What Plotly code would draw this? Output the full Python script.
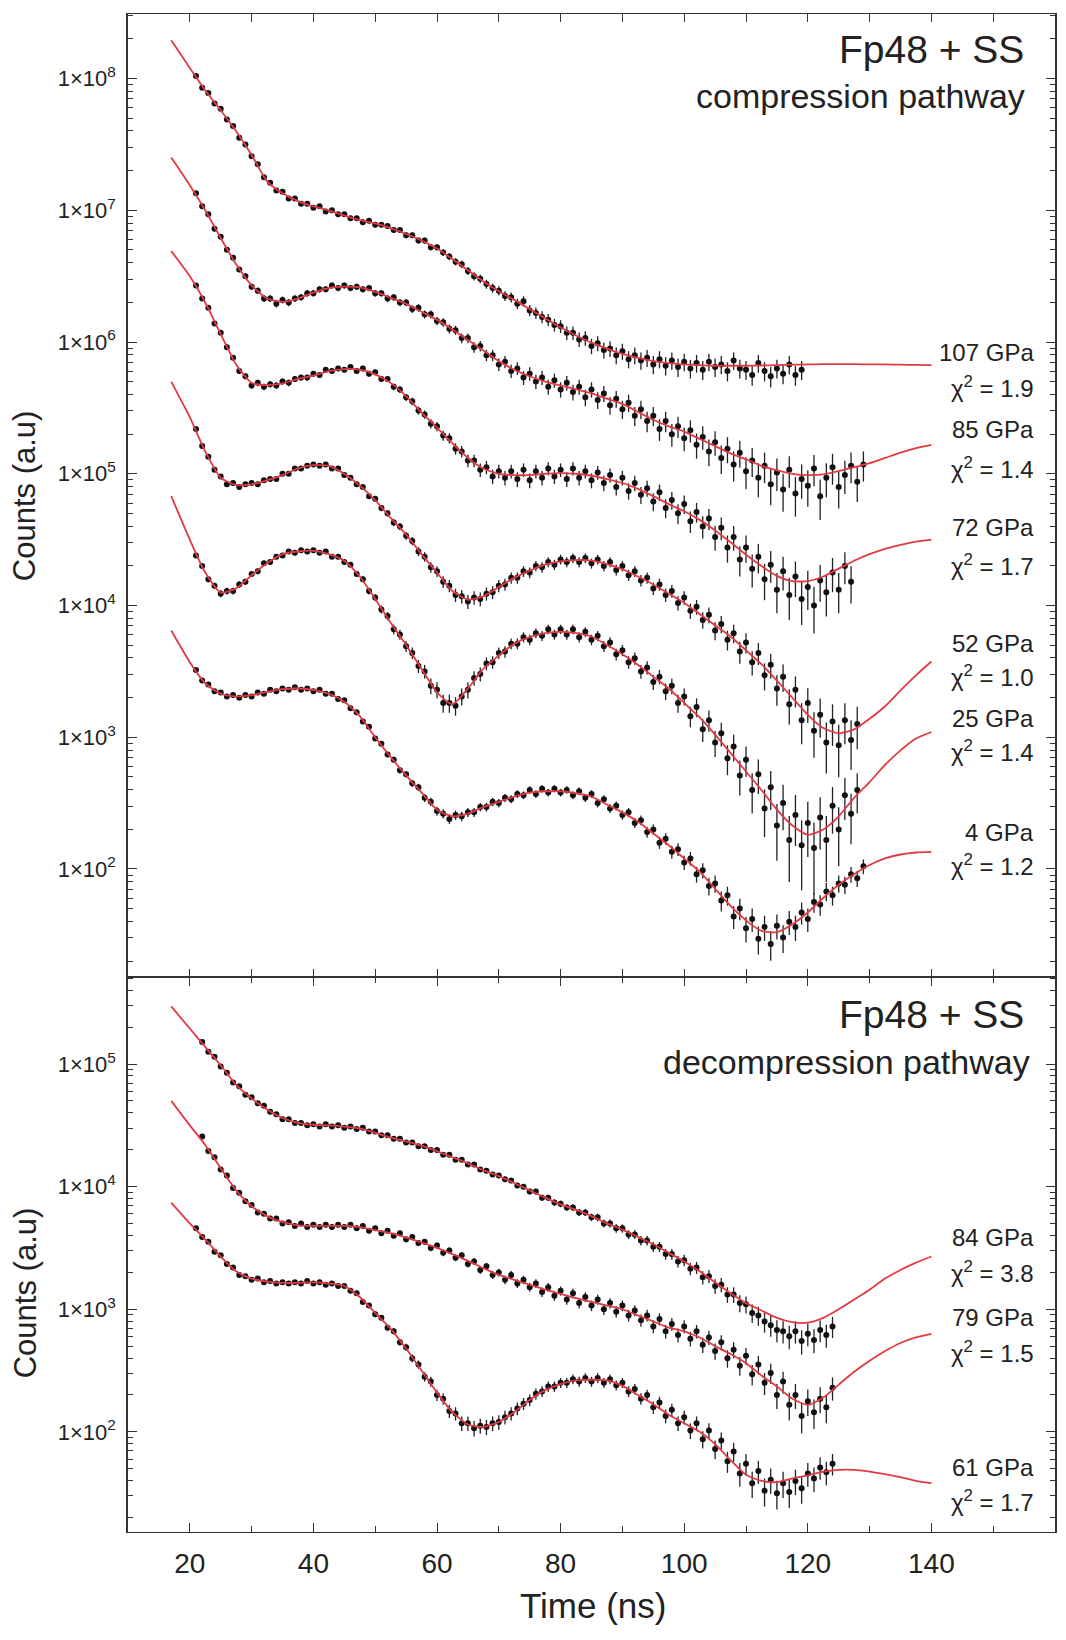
import numpy as np
import plotly.graph_objects as go

# ---------------- data (counts given as log10 values) ----------------
fit_time = [17, 20, 22.5, 25, 27.5, 30, 32.5, 35, 37.5, 40, 42.5, 45, 47.5, 50, 52.5, 55, 57.5,
            60, 62.5, 65, 67.5, 70, 72.5, 75, 77.5, 80, 82.5, 85, 87.5, 90, 92.5, 95, 97.5, 100,
            102.5, 105, 107.5, 110, 112.5, 115, 117.5, 120, 122.5, 125, 127.5, 130, 132.5, 135,
            137.5, 140]

fit_107 = [8.29, 8.08, 7.91, 7.76, 7.60, 7.42, 7.22, 7.13, 7.07, 7.03, 7.00, 6.96, 6.925, 6.90,
           6.865, 6.82, 6.77, 6.71, 6.63, 6.545, 6.46, 6.385, 6.32, 6.25, 6.18, 6.11, 6.05, 5.995,
           5.95, 5.91, 5.88, 5.855, 5.84, 5.83, 5.825, 5.82, 5.82, 5.82, 5.822, 5.825, 5.828, 5.83,
           5.832, 5.832, 5.832, 5.83, 5.83, 5.828, 5.826, 5.825]
fit_85 = [7.40, 7.19, 7.00, 6.79, 6.59, 6.43, 6.33, 6.305, 6.33, 6.375, 6.41, 6.42, 6.415, 6.38,
          6.335, 6.29, 6.23, 6.17, 6.095, 6.015, 5.935, 5.855, 5.79, 5.74, 5.70, 5.67, 5.64, 5.61,
          5.57, 5.53, 5.47, 5.41, 5.36, 5.32, 5.265, 5.21, 5.155, 5.11, 5.06, 5.025, 5.0, 4.99,
          4.995, 5.02, 5.05, 5.08, 5.12, 5.16, 5.195, 5.22]
fit_72 = [6.69, 6.50, 6.30, 6.06, 5.83, 5.69, 5.673, 5.686, 5.72, 5.745, 5.78, 5.795, 5.79, 5.755,
          5.69, 5.59, 5.465, 5.35, 5.23, 5.12, 5.04, 5.0, 4.99, 4.99, 5.0, 5.005, 5.0, 4.985, 4.96,
          4.93, 4.885, 4.83, 4.77, 4.715, 4.65, 4.57, 4.48, 4.385, 4.30, 4.225, 4.185, 4.185, 4.22,
          4.28, 4.34, 4.39, 4.43, 4.46, 4.485, 4.50]
fit_52 = [5.70, 5.43, 5.17, 4.97, 4.915, 4.92, 4.95, 4.99, 5.04, 5.065, 5.06, 5.0, 4.91, 4.80,
          4.665, 4.54, 4.39, 4.25, 4.11, 4.045, 4.07, 4.14, 4.21, 4.265, 4.31, 4.335, 4.345, 4.34,
          4.315, 4.275, 4.22, 4.16, 4.09, 4.02, 3.935, 3.85, 3.765, 3.66, 3.555, 3.43, 3.30, 3.17,
          3.07, 3.03, 3.06, 3.14, 3.235, 3.355, 3.47, 3.575]
fit_25 = [4.83, 4.50, 4.25, 4.10, 4.13, 4.23, 4.32, 4.39, 4.41, 4.415, 4.39, 4.34, 4.22, 4.05,
          3.87, 3.70, 3.52, 3.34, 3.25, 3.37, 3.52, 3.62, 3.71, 3.76, 3.79, 3.80, 3.79, 3.765, 3.70,
          3.63, 3.55, 3.46, 3.37, 3.26, 3.15, 3.02, 2.88, 2.74, 2.60, 2.45, 2.33, 2.26, 2.30, 2.40,
          2.54, 2.66, 2.79, 2.90, 2.99, 3.04]
fit_4 = [3.81, 3.57, 3.41, 3.33, 3.31, 3.32, 3.345, 3.365, 3.37, 3.36, 3.33, 3.27, 3.16, 3.0, 2.85,
         2.71, 2.58, 2.45, 2.40, 2.42, 2.47, 2.51, 2.55, 2.58, 2.59, 2.59, 2.575, 2.55, 2.49, 2.43,
         2.36, 2.27, 2.18, 2.08, 1.98, 1.85, 1.72, 1.61, 1.53, 1.52, 1.58, 1.67, 1.78, 1.88, 1.96,
         2.03, 2.08, 2.11, 2.125, 2.13]
fit_84 = [5.47, 5.29, 5.14, 4.99, 4.83, 4.72, 4.63, 4.56, 4.52, 4.505, 4.50, 4.49, 4.475, 4.44,
          4.40, 4.37, 4.335, 4.29, 4.24, 4.19, 4.135, 4.085, 4.03, 3.97, 3.91, 3.855, 3.81, 3.76,
          3.70, 3.65, 3.59, 3.53, 3.46, 3.39, 3.31, 3.22, 3.13, 3.05, 2.99, 2.93, 2.895, 2.89, 2.93,
          3.0, 3.08, 3.16, 3.25, 3.32, 3.38, 3.43]
fit_79 = [4.70, 4.50, 4.34, 4.15, 3.97, 3.84, 3.76, 3.71, 3.685, 3.68, 3.68, 3.68, 3.67, 3.645,
          3.62, 3.585, 3.545, 3.50, 3.45, 3.395, 3.335, 3.28, 3.24, 3.20, 3.16, 3.125, 3.09, 3.06,
          3.03, 3.0, 2.95, 2.90, 2.85, 2.82, 2.77, 2.70, 2.635, 2.56, 2.46, 2.37, 2.27, 2.22, 2.28,
          2.385, 2.49, 2.58, 2.66, 2.725, 2.77, 2.80]
fit_61 = [3.87, 3.70, 3.57, 3.43, 3.31, 3.25, 3.225, 3.215, 3.215, 3.22, 3.21, 3.19, 3.10, 2.97,
          2.84, 2.68, 2.50, 2.32, 2.16, 2.06, 2.04, 2.08, 2.16, 2.26, 2.34, 2.39, 2.42, 2.425, 2.42,
          2.375, 2.30, 2.225, 2.14, 2.07, 2.0, 1.90, 1.77, 1.65, 1.60, 1.59, 1.62, 1.645, 1.675,
          1.69, 1.69, 1.675, 1.655, 1.63, 1.60, 1.58]

# measured points, one per ns starting at the given time
data_107 = [8.02, 7.93, 7.89, 7.81, 7.77, 7.69, 7.64, 7.55, 7.50, 7.41,
            7.35, 7.25, 7.21, 7.15, 7.14, 7.09, 7.09, 7.05, 7.05, 7.02,
            7.03, 6.99, 7.00, 6.97, 6.97, 6.94, 6.94, 6.91, 6.92, 6.89,
            6.89, 6.88, 6.85, 6.85, 6.81, 6.81, 6.77, 6.77, 6.72, 6.72,
            6.68, 6.65, 6.61, 6.59, 6.54, 6.50, 6.48, 6.44, 6.41, 6.39,
            6.35, 6.34, 6.29, 6.31, 6.24, 6.22, 6.19, 6.17, 6.13, 6.12,
            6.07, 6.07, 6.02, 6.03, 5.97, 5.99, 5.94, 5.95, 5.90, 5.93,
            5.87, 5.90, 5.86, 5.88, 5.83, 5.87, 5.82, 5.86, 5.81, 5.85,
            5.80, 5.84, 5.79, 5.85, 5.81, 5.83, 5.78, 5.86, 5.80, 5.79,
            5.75, 5.84, 5.78, 5.74, 5.80, 5.76, 5.83, 5.75, 5.79]
data_85 = [7.13, 7.03, 6.97, 6.86, 6.80, 6.70, 6.64, 6.55, 6.50, 6.42,
           6.39, 6.33, 6.33, 6.29, 6.32, 6.30, 6.33, 6.34, 6.37, 6.37,
           6.40, 6.40, 6.43, 6.41, 6.43, 6.41, 6.42, 6.40, 6.41, 6.37,
           6.37, 6.33, 6.34, 6.30, 6.30, 6.25, 6.26, 6.21, 6.21, 6.16,
           6.15, 6.10, 6.09, 6.03, 6.03, 5.96, 5.97, 5.90, 5.90, 5.83,
           5.85, 5.78, 5.80, 5.73, 5.76, 5.70, 5.73, 5.66, 5.71, 5.64,
           5.69, 5.62, 5.66, 5.58, 5.64, 5.56, 5.61, 5.52, 5.57, 5.49,
           5.54, 5.44, 5.49, 5.40, 5.44, 5.34, 5.40, 5.30, 5.36, 5.27,
           5.33, 5.22, 5.28, 5.17, 5.24, 5.12, 5.19, 5.07, 5.16, 5.02,
           5.10, 4.97, 5.06, 4.92, 5.01, 4.88, 5.03, 4.85, 4.96, 4.91,
           5.04, 4.83, 4.97, 5.05, 4.90, 4.99, 5.06, 4.94, 5.07]
data_72 = [6.43, 6.33, 6.26, 6.14, 6.07, 5.96, 5.88, 5.78, 5.74, 5.67,
           5.69, 5.66, 5.68, 5.67, 5.70, 5.69, 5.72, 5.73, 5.73, 5.76,
           5.75, 5.79, 5.78, 5.80, 5.79, 5.81, 5.78, 5.80, 5.76, 5.77,
           5.72, 5.72, 5.66, 5.64, 5.58, 5.55, 5.48, 5.45, 5.38, 5.36,
           5.29, 5.27, 5.19, 5.17, 5.10, 5.10, 5.03, 5.05, 4.98, 5.02,
           4.97, 5.02, 4.96, 5.03, 4.95, 5.02, 4.97, 5.04, 4.98, 5.03,
           4.96, 5.04, 4.97, 5.02, 4.95, 5.01, 4.93, 4.99, 4.90, 4.97,
           4.87, 4.93, 4.84, 4.89, 4.79, 4.86, 4.74, 4.80, 4.70, 4.77,
           4.64, 4.71, 4.60, 4.66, 4.52, 4.59, 4.44, 4.52, 4.35, 4.44,
           4.28, 4.37, 4.20, 4.31, 4.12, 4.26, 4.08, 4.22, 4.05, 4.14,
           4.00, 4.19, 4.10, 4.25, 4.12, 4.30, 4.18]
data_52 = [5.34, 5.21, 5.13, 5.03, 4.98, 4.92, 4.93, 4.90, 4.92, 4.93,
           4.92, 4.95, 4.96, 4.96, 5.00, 5.00, 5.04, 5.04, 5.06, 5.07,
           5.06, 5.07, 5.04, 5.04, 4.99, 4.97, 4.92, 4.90, 4.83, 4.81,
           4.74, 4.70, 4.63, 4.60, 4.53, 4.49, 4.41, 4.37, 4.29, 4.26,
           4.18, 4.15, 4.08, 4.07, 4.03, 4.06, 4.05, 4.09, 4.10, 4.15,
           4.16, 4.21, 4.21, 4.26, 4.25, 4.30, 4.29, 4.33, 4.31, 4.35,
           4.33, 4.36, 4.33, 4.36, 4.32, 4.35, 4.30, 4.33, 4.27, 4.30,
           4.23, 4.26, 4.19, 4.21, 4.13, 4.16, 4.08, 4.11, 4.02, 4.06,
           3.96, 3.99, 3.89, 3.93, 3.81, 3.86, 3.74, 3.79, 3.65, 3.72,
           3.57, 3.64, 3.47, 3.55, 3.37, 3.46, 3.25, 3.36, 3.13, 3.26,
           3.05, 3.17, 2.96, 3.12, 2.94, 3.13, 2.98, 3.10]
data_25 = [4.38, 4.30, 4.20, 4.15, 4.09, 4.11, 4.11, 4.16, 4.18, 4.24,
           4.26, 4.32, 4.33, 4.37, 4.38, 4.41, 4.40, 4.42, 4.41, 4.42,
           4.40, 4.41, 4.37, 4.37, 4.33, 4.31, 4.24, 4.20, 4.11, 4.06,
           3.97, 3.92, 3.82, 3.78, 3.69, 3.64, 3.54, 3.50, 3.39, 3.36,
           3.26, 3.26, 3.24, 3.31, 3.36, 3.45, 3.48, 3.56, 3.57, 3.64,
           3.65, 3.71, 3.71, 3.76, 3.74, 3.79, 3.77, 3.82, 3.78, 3.82,
           3.78, 3.82, 3.76, 3.80, 3.74, 3.77, 3.69, 3.72, 3.63, 3.66,
           3.57, 3.60, 3.50, 3.53, 3.42, 3.46, 3.35, 3.39, 3.26, 3.31,
           3.16, 3.23, 3.06, 3.13, 2.96, 3.03, 2.84, 2.93, 2.71, 2.83,
           2.60, 2.72, 2.46, 2.62, 2.33, 2.50, 2.22, 2.41, 2.18, 2.35,
           2.16, 2.39, 2.22, 2.48, 2.30, 2.56, 2.42, 2.60]
data_4 = [3.51, 3.43, 3.40, 3.35, 3.34, 3.31, 3.32, 3.30, 3.32, 3.31,
          3.34, 3.33, 3.36, 3.35, 3.37, 3.36, 3.38, 3.36, 3.37, 3.35,
          3.36, 3.33, 3.33, 3.29, 3.28, 3.22, 3.19, 3.12, 3.08, 2.99,
          2.95, 2.87, 2.83, 2.75, 2.72, 2.65, 2.62, 2.54, 2.51, 2.44,
          2.42, 2.38, 2.41, 2.40, 2.43, 2.43, 2.47, 2.47, 2.51, 2.50,
          2.54, 2.53, 2.57, 2.56, 2.60, 2.57, 2.61, 2.58, 2.61, 2.58,
          2.60, 2.56, 2.59, 2.54, 2.57, 2.50, 2.53, 2.46, 2.48, 2.41,
          2.43, 2.35, 2.37, 2.28, 2.30, 2.20, 2.23, 2.13, 2.15, 2.05,
          2.08, 1.96, 1.99, 1.87, 1.89, 1.76, 1.80, 1.64, 1.70, 1.55,
          1.62, 1.47, 1.56, 1.43, 1.57, 1.48, 1.60, 1.56, 1.67, 1.62,
          1.75, 1.73, 1.83, 1.80, 1.89, 1.88, 1.96, 1.93, 2.02]
data_84 = [5.18, 5.10, 5.06, 4.98, 4.93, 4.85, 4.82, 4.75, 4.73, 4.68,
           4.66, 4.61, 4.59, 4.55, 4.55, 4.52, 4.52, 4.50, 4.51, 4.49,
           4.51, 4.49, 4.50, 4.48, 4.49, 4.47, 4.48, 4.45, 4.45, 4.42,
           4.42, 4.39, 4.39, 4.36, 4.36, 4.33, 4.33, 4.30, 4.30, 4.26,
           4.26, 4.22, 4.22, 4.18, 4.18, 4.14, 4.13, 4.10, 4.09, 4.06,
           4.05, 4.01, 4.00, 3.96, 3.96, 3.91, 3.91, 3.87, 3.86, 3.83,
           3.83, 3.79, 3.79, 3.75, 3.75, 3.70, 3.70, 3.66, 3.66, 3.61,
           3.61, 3.56, 3.56, 3.51, 3.51, 3.45, 3.45, 3.39, 3.40, 3.33,
           3.34, 3.26, 3.27, 3.19, 3.20, 3.12, 3.12, 3.05, 3.04, 2.97,
           2.95, 2.90, 2.87, 2.83, 2.82, 2.78, 2.82, 2.74, 2.80, 2.75,
           2.83, 2.79, 2.86]
data_79 = [4.41, 4.29, 4.24, 4.14, 4.09, 3.99, 3.95, 3.88, 3.85, 3.79,
           3.78, 3.74, 3.74, 3.70, 3.71, 3.68, 3.70, 3.67, 3.69, 3.67,
           3.69, 3.67, 3.69, 3.67, 3.69, 3.66, 3.68, 3.64, 3.66, 3.62,
           3.64, 3.60, 3.62, 3.57, 3.59, 3.54, 3.55, 3.50, 3.52, 3.46,
           3.48, 3.42, 3.44, 3.37, 3.39, 3.32, 3.35, 3.28, 3.30, 3.24,
           3.28, 3.21, 3.24, 3.18, 3.21, 3.14, 3.18, 3.11, 3.15, 3.08,
           3.13, 3.05, 3.10, 3.03, 3.08, 3.00, 3.05, 2.98, 3.03, 2.95,
           2.99, 2.91, 2.95, 2.86, 2.92, 2.82, 2.88, 2.79, 2.86, 2.76,
           2.82, 2.71, 2.77, 2.66, 2.73, 2.60, 2.67, 2.54, 2.62, 2.47,
           2.55, 2.40, 2.48, 2.30, 2.41, 2.22, 2.30, 2.13, 2.25, 2.16,
           2.27, 2.20, 2.36]
data_61 = [3.66, 3.59, 3.55, 3.47, 3.44, 3.37, 3.34, 3.28, 3.27, 3.24,
           3.25, 3.22, 3.23, 3.21, 3.22, 3.21, 3.22, 3.21, 3.23, 3.21,
           3.22, 3.20, 3.21, 3.19, 3.19, 3.15, 3.13, 3.06, 3.03, 2.96,
           2.93, 2.85, 2.82, 2.73, 2.69, 2.60, 2.55, 2.45, 2.41, 2.30,
           2.27, 2.17, 2.15, 2.07, 2.07, 2.03, 2.05, 2.04, 2.07, 2.08,
           2.12, 2.15, 2.19, 2.23, 2.26, 2.31, 2.33, 2.37, 2.37, 2.40,
           2.40, 2.43, 2.41, 2.44, 2.41, 2.44, 2.40, 2.43, 2.38, 2.40,
           2.33, 2.35, 2.27, 2.30, 2.20, 2.24, 2.13, 2.18, 2.07, 2.12,
           2.01, 2.07, 1.94, 2.01, 1.86, 1.93, 1.76, 1.84, 1.66, 1.74,
           1.58, 1.68, 1.52, 1.61, 1.50, 1.58, 1.51, 1.60, 1.54, 1.66,
           1.62, 1.71, 1.67, 1.74]

pressures_top = ["107 GPa", "85 GPa", "72 GPa", "52 GPa", "25 GPa", "4 GPa"]
chi2_top = ["1.9", "1.4", "1.7", "1.0", "1.4", "1.2"]
pressures_bot = ["84 GPa", "79 GPa", "61 GPa"]
chi2_bot = ["3.8", "1.5", "1.7"]
data_start = {"107 GPa": 21, "85 GPa": 21, "72 GPa": 21, "52 GPa": 21, "25 GPa": 21,
              "4 GPa": 21, "84 GPa": 22, "79 GPa": 22, "61 GPa": 21}
# counting-statistics scale factor of each (offset) spectrum, used for Poisson error bars
count_scale = {"107 GPa": 16600, "85 GPa": 7800, "72 GPa": 1500, "52 GPa": 160, "25 GPa": 45,
               "4 GPa": 1.7, "84 GPa": 28, "79 GPa": 10.6, "61 GPa": 2.2}

series = {
    "107 GPa": (data_107, fit_107), "85 GPa": (data_85, fit_85), "72 GPa": (data_72, fit_72),
    "52 GPa": (data_52, fit_52), "25 GPa": (data_25, fit_25), "4 GPa": (data_4, fit_4),
    "84 GPa": (data_84, fit_84), "79 GPa": (data_79, fit_79), "61 GPa": (data_61, fit_61),
}

# ---------------- figure ----------------
FONT = "Liberation Sans, Arial, Helvetica, sans-serif"
RED = "#e23a42"
fig = go.Figure()


def add_curve(name, xa, ya):
    dat, fit = series[name]
    t = np.arange(data_start[name], data_start[name] + len(dat))
    counts = 10 ** np.array(dat)
    err = np.sqrt(count_scale[name] * counts)
    fig.add_trace(go.Scatter(
        x=t, y=counts, mode="markers", xaxis=xa, yaxis=ya, showlegend=False,
        marker=dict(size=6, color="#111"),
        error_y=dict(type="data", array=err, visible=True, color="#222", thickness=1.3, width=0),
    ))
    fig.add_trace(go.Scatter(
        x=fit_time, y=10 ** np.array(fit), mode="lines", xaxis=xa, yaxis=ya, showlegend=False,
        line=dict(color=RED, width=1.8, shape="spline", smoothing=0.6),
    ))


for p in pressures_top:
    add_curve(p, "x", "y")
for p in pressures_bot:
    add_curve(p, "x2", "y2")


def log_minor(lo, hi):
    vals = []
    for d in range(lo, hi):
        for m in range(2, 10):
            vals.append(m * 10 ** d)
    return vals


axis_common = dict(showline=True, linecolor="#333", mirror="allticks",
                   ticks="inside", tickcolor="#333", tickwidth=1.3, showgrid=False,
                   zeroline=False)

split = 0.3656
fig.update_layout(
    width=1066, height=1640,
    margin=dict(l=128, r=9, t=14, b=108),
    paper_bgcolor="white", plot_bgcolor="white",
    font=dict(family=FONT, color="#222"),
    xaxis=dict(domain=[0, 1], anchor="y", range=[10, 160], showticklabels=False, linewidth=1.2,
               tickvals=[20, 30, 40, 50, 60, 70, 80, 90, 100, 110, 120, 130, 140, 150],
               ticklen=8, **axis_common),
    xaxis2=dict(domain=[0, 1], anchor="y2", range=[10, 160], linewidth=1.2,
                tickvals=[20, 40, 60, 80, 100, 120, 140], ticklen=9,
                tickfont=dict(size=28, family=FONT, color="#222"), ticklabelstandoff=6,
                minor=dict(tickvals=[30, 50, 70, 90, 110, 130, 150], ticklen=6, ticks="inside",
                           tickcolor="#333", tickwidth=1.3),
                **axis_common),
    yaxis=dict(domain=[split, 1], anchor="x", type="log", range=[1.18, 8.49], linewidth=1.5,
               tickvals=[1e2, 1e3, 1e4, 1e5, 1e6, 1e7, 1e8],
               ticktext=["1×10<sup>%d</sup>" % k for k in range(2, 9)],
               ticklen=9, tickfont=dict(size=22, family=FONT, color="#222"),
               ticklabelstandoff=6,
               minor=dict(tickvals=log_minor(1, 9), ticklen=5, ticks="inside",
                          tickcolor="#333", tickwidth=1.1),
               **axis_common),
    yaxis2=dict(domain=[0, split], anchor="x2", type="log", range=[1.183, 5.71], linewidth=1.5,
                tickvals=[1e2, 1e3, 1e4, 1e5],
                ticktext=["1×10<sup>%d</sup>" % k for k in range(2, 6)],
                ticklen=9, tickfont=dict(size=22, family=FONT, color="#222"),
                ticklabelstandoff=6,
                minor=dict(tickvals=log_minor(1, 6), ticklen=5, ticks="inside",
                           tickcolor="#333", tickwidth=1.1),
                **axis_common),
)

ann = []
X_LAB = 0.98
top_label_y = [(0.7767, 0.7543), (0.7266, 0.7009), (0.6614, 0.6370), (0.5856, 0.5639),
               (0.5356, 0.5145), (0.4611, 0.4394)]
bot_label_y = [(0.1937, 0.1713), (0.1410, 0.1186), (0.0422, 0.0204)]
for (p, c), (y1, y2) in list(zip(zip(pressures_top, chi2_top), top_label_y)) + \
        list(zip(zip(pressures_bot, chi2_bot), bot_label_y)):
    ann.append(dict(text=p, x=X_LAB, y=y1, xref="paper", yref="paper", xanchor="right",
                    yanchor="middle", showarrow=False, font=dict(size=24, family=FONT, color="#222")))
    ann.append(dict(text="χ<sup>2</sup> = " + c, x=X_LAB, y=y2, xref="paper", yref="paper",
                    xanchor="right", yanchor="middle", showarrow=False,
                    font=dict(size=24, family=FONT, color="#222")))

ann += [
    dict(text="Fp48 + SS", x=0.9688, y=0.9763, xref="paper", yref="paper", xanchor="right",
         yanchor="middle", showarrow=False, font=dict(size=39, family=FONT, color="#222")),
    dict(text="compression pathway", x=0.9699, y=0.9460, xref="paper", yref="paper",
         xanchor="right", yanchor="middle", showarrow=False,
         font=dict(size=34, family=FONT, color="#222")),
    dict(text="Fp48 + SS", x=0.9688, y=0.3406, xref="paper", yref="paper", xanchor="right",
         yanchor="middle", showarrow=False, font=dict(size=39, family=FONT, color="#222")),
    dict(text="decompression pathway", x=0.9752, y=0.3096, xref="paper", yref="paper",
         xanchor="right", yanchor="middle", showarrow=False,
         font=dict(size=34, family=FONT, color="#222")),
    dict(text="Counts (a.u)", x=-0.1109, y=0.6825, xref="paper", yref="paper", textangle=-90,
         xanchor="center", yanchor="middle", showarrow=False,
         font=dict(size=31, family=FONT, color="#222")),
    dict(text="Counts (a.u)", x=-0.1109, y=0.1574, xref="paper", yref="paper", textangle=-90,
         xanchor="center", yanchor="middle", showarrow=False,
         font=dict(size=31, family=FONT, color="#222")),
    dict(text="Time (ns)", x=0.5016, y=-0.0487, xref="paper", yref="paper", xanchor="center",
         yanchor="middle", showarrow=False, font=dict(size=35, family=FONT, color="#222")),
]
fig.update_layout(annotations=ann)

fig.write_html("out.html")
